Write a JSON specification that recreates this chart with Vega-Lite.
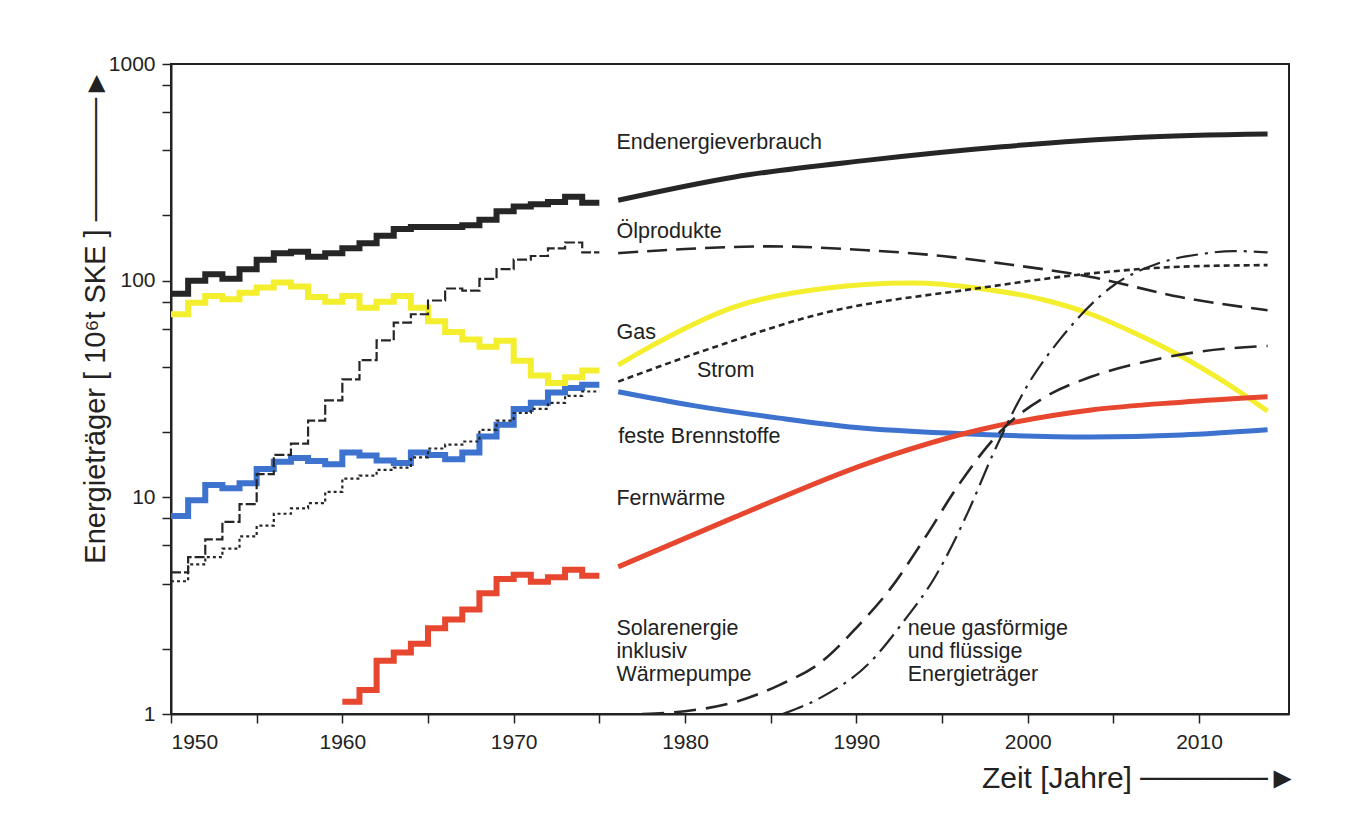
{
  "$schema": "https://vega.github.io/schema/vega-lite/v6.json",
  "width": 1118,
  "height": 650,
  "autosize": {"type": "none"},
  "padding": {"left": 171, "top": 64, "right": 80, "bottom": 109},
  "background": "white",
  "config": {
    "font": "Liberation Sans",
    "view": {"stroke": "#222222", "strokeWidth": 2},
    "axis": {
      "grid": false,
      "domainColor": "#222222",
      "domainWidth": 2,
      "tickColor": "#222222",
      "tickWidth": 1.5,
      "tickSize": 9,
      "labelFontSize": 21,
      "labelColor": "#222222",
      "labelFont": "Liberation Sans",
      "titleFont": "Liberation Sans, DejaVu Sans",
      "titleFontSize": 29,
      "titleFontWeight": "normal",
      "titleColor": "#222222"
    }
  },
  "datasets": {
    "hist": [
      {"series": "Endenergieverbrauch", "year": 1950, "value": 87},
      {"series": "Endenergieverbrauch", "year": 1951, "value": 100},
      {"series": "Endenergieverbrauch", "year": 1952, "value": 107},
      {"series": "Endenergieverbrauch", "year": 1953, "value": 102},
      {"series": "Endenergieverbrauch", "year": 1954, "value": 113},
      {"series": "Endenergieverbrauch", "year": 1955, "value": 125},
      {"series": "Endenergieverbrauch", "year": 1956, "value": 134},
      {"series": "Endenergieverbrauch", "year": 1957, "value": 136},
      {"series": "Endenergieverbrauch", "year": 1958, "value": 129},
      {"series": "Endenergieverbrauch", "year": 1959, "value": 134},
      {"series": "Endenergieverbrauch", "year": 1960, "value": 141},
      {"series": "Endenergieverbrauch", "year": 1961, "value": 149},
      {"series": "Endenergieverbrauch", "year": 1962, "value": 161},
      {"series": "Endenergieverbrauch", "year": 1963, "value": 173},
      {"series": "Endenergieverbrauch", "year": 1964, "value": 177},
      {"series": "Endenergieverbrauch", "year": 1965, "value": 177},
      {"series": "Endenergieverbrauch", "year": 1966, "value": 177},
      {"series": "Endenergieverbrauch", "year": 1967, "value": 180},
      {"series": "Endenergieverbrauch", "year": 1968, "value": 191},
      {"series": "Endenergieverbrauch", "year": 1969, "value": 209},
      {"series": "Endenergieverbrauch", "year": 1970, "value": 220},
      {"series": "Endenergieverbrauch", "year": 1971, "value": 225},
      {"series": "Endenergieverbrauch", "year": 1972, "value": 231},
      {"series": "Endenergieverbrauch", "year": 1973, "value": 244},
      {"series": "Endenergieverbrauch", "year": 1974, "value": 229},
      {"series": "Endenergieverbrauch", "year": 1975, "value": 229},
      {"series": "Ölprodukte", "year": 1950, "value": 4.5},
      {"series": "Ölprodukte", "year": 1951, "value": 5.3},
      {"series": "Ölprodukte", "year": 1952, "value": 6.4},
      {"series": "Ölprodukte", "year": 1953, "value": 7.7},
      {"series": "Ölprodukte", "year": 1954, "value": 9.3},
      {"series": "Ölprodukte", "year": 1955, "value": 12.8},
      {"series": "Ölprodukte", "year": 1956, "value": 15.7},
      {"series": "Ölprodukte", "year": 1957, "value": 17.7},
      {"series": "Ölprodukte", "year": 1958, "value": 22.6},
      {"series": "Ölprodukte", "year": 1959, "value": 28},
      {"series": "Ölprodukte", "year": 1960, "value": 35},
      {"series": "Ölprodukte", "year": 1961, "value": 43},
      {"series": "Ölprodukte", "year": 1962, "value": 53},
      {"series": "Ölprodukte", "year": 1963, "value": 64},
      {"series": "Ölprodukte", "year": 1964, "value": 70},
      {"series": "Ölprodukte", "year": 1965, "value": 81},
      {"series": "Ölprodukte", "year": 1966, "value": 92},
      {"series": "Ölprodukte", "year": 1967, "value": 90},
      {"series": "Ölprodukte", "year": 1968, "value": 102},
      {"series": "Ölprodukte", "year": 1969, "value": 113},
      {"series": "Ölprodukte", "year": 1970, "value": 125},
      {"series": "Ölprodukte", "year": 1971, "value": 130},
      {"series": "Ölprodukte", "year": 1972, "value": 141},
      {"series": "Ölprodukte", "year": 1973, "value": 150},
      {"series": "Ölprodukte", "year": 1974, "value": 135},
      {"series": "Ölprodukte", "year": 1975, "value": 135},
      {"series": "Strom", "year": 1950, "value": 4.1},
      {"series": "Strom", "year": 1951, "value": 4.9},
      {"series": "Strom", "year": 1952, "value": 5.3},
      {"series": "Strom", "year": 1953, "value": 5.8},
      {"series": "Strom", "year": 1954, "value": 6.6},
      {"series": "Strom", "year": 1955, "value": 7.4},
      {"series": "Strom", "year": 1956, "value": 8.4},
      {"series": "Strom", "year": 1957, "value": 8.9},
      {"series": "Strom", "year": 1958, "value": 9.4},
      {"series": "Strom", "year": 1959, "value": 10.6},
      {"series": "Strom", "year": 1960, "value": 12.2},
      {"series": "Strom", "year": 1961, "value": 12.6},
      {"series": "Strom", "year": 1962, "value": 13.4},
      {"series": "Strom", "year": 1963, "value": 13.7},
      {"series": "Strom", "year": 1964, "value": 15.3},
      {"series": "Strom", "year": 1965, "value": 16.8},
      {"series": "Strom", "year": 1966, "value": 17.5},
      {"series": "Strom", "year": 1967, "value": 18.1},
      {"series": "Strom", "year": 1968, "value": 20.5},
      {"series": "Strom", "year": 1969, "value": 22.6},
      {"series": "Strom", "year": 1970, "value": 24.5},
      {"series": "Strom", "year": 1971, "value": 25.6},
      {"series": "Strom", "year": 1972, "value": 27.3},
      {"series": "Strom", "year": 1973, "value": 29.4},
      {"series": "Strom", "year": 1974, "value": 30.8},
      {"series": "Strom", "year": 1975, "value": 30.8},
      {"series": "feste Brennstoffe", "year": 1950, "value": 8.2},
      {"series": "feste Brennstoffe", "year": 1951, "value": 9.7},
      {"series": "feste Brennstoffe", "year": 1952, "value": 11.4},
      {"series": "feste Brennstoffe", "year": 1953, "value": 11.0},
      {"series": "feste Brennstoffe", "year": 1954, "value": 11.6},
      {"series": "feste Brennstoffe", "year": 1955, "value": 13.5},
      {"series": "feste Brennstoffe", "year": 1956, "value": 14.6},
      {"series": "feste Brennstoffe", "year": 1957, "value": 15.2},
      {"series": "feste Brennstoffe", "year": 1958, "value": 14.7},
      {"series": "feste Brennstoffe", "year": 1959, "value": 14.2},
      {"series": "feste Brennstoffe", "year": 1960, "value": 16.1},
      {"series": "feste Brennstoffe", "year": 1961, "value": 15.6},
      {"series": "feste Brennstoffe", "year": 1962, "value": 14.8},
      {"series": "feste Brennstoffe", "year": 1963, "value": 14.4},
      {"series": "feste Brennstoffe", "year": 1964, "value": 16.1},
      {"series": "feste Brennstoffe", "year": 1965, "value": 15.7},
      {"series": "feste Brennstoffe", "year": 1966, "value": 15.0},
      {"series": "feste Brennstoffe", "year": 1967, "value": 16.1},
      {"series": "feste Brennstoffe", "year": 1968, "value": 19.1},
      {"series": "feste Brennstoffe", "year": 1969, "value": 21.6},
      {"series": "feste Brennstoffe", "year": 1970, "value": 25.6},
      {"series": "feste Brennstoffe", "year": 1971, "value": 27.3},
      {"series": "feste Brennstoffe", "year": 1972, "value": 30.5},
      {"series": "feste Brennstoffe", "year": 1973, "value": 32.0},
      {"series": "feste Brennstoffe", "year": 1974, "value": 33.1},
      {"series": "feste Brennstoffe", "year": 1975, "value": 33.1},
      {"series": "Gas", "year": 1950, "value": 70},
      {"series": "Gas", "year": 1951, "value": 79},
      {"series": "Gas", "year": 1952, "value": 85},
      {"series": "Gas", "year": 1953, "value": 82},
      {"series": "Gas", "year": 1954, "value": 88},
      {"series": "Gas", "year": 1955, "value": 93},
      {"series": "Gas", "year": 1956, "value": 98},
      {"series": "Gas", "year": 1957, "value": 94},
      {"series": "Gas", "year": 1958, "value": 84},
      {"series": "Gas", "year": 1959, "value": 80},
      {"series": "Gas", "year": 1960, "value": 85},
      {"series": "Gas", "year": 1961, "value": 75},
      {"series": "Gas", "year": 1962, "value": 80},
      {"series": "Gas", "year": 1963, "value": 85},
      {"series": "Gas", "year": 1964, "value": 75},
      {"series": "Gas", "year": 1965, "value": 65},
      {"series": "Gas", "year": 1966, "value": 58},
      {"series": "Gas", "year": 1967, "value": 53.5},
      {"series": "Gas", "year": 1968, "value": 49.6},
      {"series": "Gas", "year": 1969, "value": 52.8},
      {"series": "Gas", "year": 1970, "value": 42.7},
      {"series": "Gas", "year": 1971, "value": 36.5},
      {"series": "Gas", "year": 1972, "value": 33.7},
      {"series": "Gas", "year": 1973, "value": 35.8},
      {"series": "Gas", "year": 1974, "value": 38.5},
      {"series": "Gas", "year": 1975, "value": 38.5},
      {"series": "Fernwärme", "year": 1960, "value": 1.14},
      {"series": "Fernwärme", "year": 1961, "value": 1.29},
      {"series": "Fernwärme", "year": 1962, "value": 1.76},
      {"series": "Fernwärme", "year": 1963, "value": 1.92},
      {"series": "Fernwärme", "year": 1964, "value": 2.11},
      {"series": "Fernwärme", "year": 1965, "value": 2.49},
      {"series": "Fernwärme", "year": 1966, "value": 2.73},
      {"series": "Fernwärme", "year": 1967, "value": 3.04},
      {"series": "Fernwärme", "year": 1968, "value": 3.61},
      {"series": "Fernwärme", "year": 1969, "value": 4.2},
      {"series": "Fernwärme", "year": 1970, "value": 4.39},
      {"series": "Fernwärme", "year": 1971, "value": 4.08},
      {"series": "Fernwärme", "year": 1972, "value": 4.28},
      {"series": "Fernwärme", "year": 1973, "value": 4.63},
      {"series": "Fernwärme", "year": 1974, "value": 4.35},
      {"series": "Fernwärme", "year": 1975, "value": 4.35}
    ],
    "proj": [
      {"series": "Endenergieverbrauch", "year": 1976.1, "value": 235},
      {"series": "Endenergieverbrauch", "year": 1982.9, "value": 301},
      {"series": "Endenergieverbrauch", "year": 1990.7, "value": 360},
      {"series": "Endenergieverbrauch", "year": 1998.5, "value": 415},
      {"series": "Endenergieverbrauch", "year": 2006.3, "value": 458},
      {"series": "Endenergieverbrauch", "year": 2014, "value": 475},
      {"series": "Ölprodukte", "year": 1976.1, "value": 134},
      {"series": "Ölprodukte", "year": 1980, "value": 140},
      {"series": "Ölprodukte", "year": 1985, "value": 144},
      {"series": "Ölprodukte", "year": 1990.7, "value": 138},
      {"series": "Ölprodukte", "year": 1995, "value": 130},
      {"series": "Ölprodukte", "year": 1998.5, "value": 120},
      {"series": "Ölprodukte", "year": 2003.7, "value": 104},
      {"series": "Ölprodukte", "year": 2008.9, "value": 84},
      {"series": "Ölprodukte", "year": 2014, "value": 73},
      {"series": "Strom", "year": 1976.1, "value": 34.2},
      {"series": "Strom", "year": 1981.5, "value": 48.7},
      {"series": "Strom", "year": 1988, "value": 70.6},
      {"series": "Strom", "year": 1997, "value": 92},
      {"series": "Strom", "year": 2003.7, "value": 108},
      {"series": "Strom", "year": 2008.9, "value": 116},
      {"series": "Strom", "year": 2014, "value": 118},
      {"series": "Gas", "year": 1976.1, "value": 40.8},
      {"series": "Gas", "year": 1977.6, "value": 47.8},
      {"series": "Gas", "year": 1982.9, "value": 75.7},
      {"series": "Gas", "year": 1988.1, "value": 92},
      {"series": "Gas", "year": 1993.3, "value": 97.5},
      {"series": "Gas", "year": 1997.2, "value": 92},
      {"series": "Gas", "year": 2001.1, "value": 81},
      {"series": "Gas", "year": 2003.7, "value": 70},
      {"series": "Gas", "year": 2006.3, "value": 57},
      {"series": "Gas", "year": 2008.9, "value": 45},
      {"series": "Gas", "year": 2011.5, "value": 34},
      {"series": "Gas", "year": 2014, "value": 25},
      {"series": "feste Brennstoffe", "year": 1976.1, "value": 30.7},
      {"series": "feste Brennstoffe", "year": 1980.5, "value": 26.5},
      {"series": "feste Brennstoffe", "year": 1985.5, "value": 23.2},
      {"series": "feste Brennstoffe", "year": 1990, "value": 21},
      {"series": "feste Brennstoffe", "year": 1995.9, "value": 19.7},
      {"series": "feste Brennstoffe", "year": 2003.7, "value": 19.0},
      {"series": "feste Brennstoffe", "year": 2009, "value": 19.4},
      {"series": "feste Brennstoffe", "year": 2014, "value": 20.5},
      {"series": "Fernwärme", "year": 1976.1, "value": 4.78},
      {"series": "Fernwärme", "year": 1982.9, "value": 8.1},
      {"series": "Fernwärme", "year": 1990.7, "value": 14.4},
      {"series": "Fernwärme", "year": 1997.2, "value": 20.5},
      {"series": "Fernwärme", "year": 2003.7, "value": 25.3},
      {"series": "Fernwärme", "year": 2009, "value": 27.5},
      {"series": "Fernwärme", "year": 2014, "value": 29.1},
      {"series": "Solarenergie", "year": 1977.5, "value": 1.0},
      {"series": "Solarenergie", "year": 1980, "value": 1.03},
      {"series": "Solarenergie", "year": 1983, "value": 1.14},
      {"series": "Solarenergie", "year": 1985.5, "value": 1.36},
      {"series": "Solarenergie", "year": 1988, "value": 1.75},
      {"series": "Solarenergie", "year": 1990, "value": 2.5},
      {"series": "Solarenergie", "year": 1992, "value": 3.8},
      {"series": "Solarenergie", "year": 1994, "value": 6.5},
      {"series": "Solarenergie", "year": 1996, "value": 11.5},
      {"series": "Solarenergie", "year": 1998.5, "value": 20.5},
      {"series": "Solarenergie", "year": 2001, "value": 29},
      {"series": "Solarenergie", "year": 2003.7, "value": 36},
      {"series": "Solarenergie", "year": 2007.6, "value": 43.5},
      {"series": "Solarenergie", "year": 2010, "value": 47},
      {"series": "Solarenergie", "year": 2014, "value": 50},
      {"series": "neue Energieträger", "year": 1985.7, "value": 1.0},
      {"series": "neue Energieträger", "year": 1988, "value": 1.2},
      {"series": "neue Energieträger", "year": 1990.7, "value": 1.7},
      {"series": "neue Energieträger", "year": 1992.8, "value": 2.7},
      {"series": "neue Energieträger", "year": 1994.6, "value": 4.3},
      {"series": "neue Energieträger", "year": 1996.5, "value": 8.5},
      {"series": "neue Energieträger", "year": 1998, "value": 16},
      {"series": "neue Energieträger", "year": 2000, "value": 33},
      {"series": "neue Energieträger", "year": 2002, "value": 55},
      {"series": "neue Energieträger", "year": 2005, "value": 95},
      {"series": "neue Energieträger", "year": 2007.6, "value": 120},
      {"series": "neue Energieträger", "year": 2010.2, "value": 133},
      {"series": "neue Energieträger", "year": 2012, "value": 137},
      {"series": "neue Energieträger", "year": 2014, "value": 135}
    ],
    "labels": [
      {"label": "Endenergieverbrauch", "year": 1976.0, "value": 431},
      {"label": "Ölprodukte", "year": 1976.0, "value": 168},
      {"label": "Gas", "year": 1976.0, "value": 57.3},
      {"label": "Strom", "year": 1980.7, "value": 38.3},
      {"label": "feste Brennstoffe", "year": 1976.1, "value": 19.0},
      {"label": "Fernwärme", "year": 1976.0, "value": 9.8},
      {"label": "Solarenergie\ninklusiv\nWärmepumpe", "year": 1976.0, "value": 2.46},
      {"label": "neue gasförmige\nund flüssige\nEnergieträger", "year": 1993.0, "value": 2.46}
    ]
  },
  "encoding": {
    "x": {
      "field": "year", "type": "quantitative",
      "scale": {"domain": [1950, 2015.25], "nice": false, "zero": false},
      "axis": {
        "values": [1950, 1955, 1960, 1965, 1970, 1975, 1980, 1985, 1990, 1995, 2000, 2005, 2010],
        "labelExpr": "datum.value % 10 == 0 ? format(datum.value, 'd') : ''",
        "labelPadding": 8,
        "title": "Zeit  [Jahre] ──────►",
        "titleFontSize": 30,
        "titleAlign": "right",
        "titleBaseline": "middle",
        "titleX": 1126,
        "titleY": 64
      }
    },
    "y": {
      "field": "value", "type": "quantitative",
      "scale": {"type": "log", "domain": [1, 1000], "nice": false},
      "axis": {
        "values": [1, 2, 4, 6, 8, 10, 20, 40, 60, 80, 100, 200, 400, 600, 800, 1000],
        "labelExpr": "datum.value == 1 || datum.value == 10 || datum.value == 100 || datum.value == 1000 ? format(datum.value, 'd') : ''",
        "labelPadding": 7,
        "title": "Energieträger  [ 10⁶t SKE ]  ──────►",
        "titleAlign": "center",
        "titleBaseline": "middle",
        "titleAngle": -90,
        "titleX": -76,
        "titleY": 252
      }
    },
    "color": {"field": "series", "type": "nominal", "legend": null,
      "scale": {"domain": ["Endenergieverbrauch", "Ölprodukte", "Gas", "Strom", "feste Brennstoffe", "Fernwärme", "Solarenergie", "neue Energieträger"],
                "range": ["#262626", "#262626", "#f3ee2e", "#262626", "#3d72cf", "#e6472e", "#262626", "#262626"]}}
  },
  "layer": [
    {
      "data": {"name": "hist"},
      "transform": [{"filter": {"field": "series", "oneOf": ["Endenergieverbrauch", "Gas", "feste Brennstoffe", "Fernwärme"]}}],
      "mark": {"type": "line", "interpolate": "step-after", "clip": true, "strokeWidth": 6, "strokeCap": "butt", "strokeJoin": "miter"},
      "encoding": {"detail": {"field": "series"}}
    },
    {
      "data": {"name": "hist"},
      "transform": [{"filter": {"field": "series", "equal": "Ölprodukte"}}],
      "mark": {"type": "line", "interpolate": "step-after", "clip": true, "strokeWidth": 2.2, "strokeDash": [10, 3], "strokeCap": "butt"},
      "encoding": {"detail": {"field": "series"}}
    },
    {
      "data": {"name": "hist"},
      "transform": [{"filter": {"field": "series", "equal": "Strom"}}],
      "mark": {"type": "line", "interpolate": "step-after", "clip": true, "strokeWidth": 2.2, "strokeDash": [3, 3], "strokeCap": "butt"},
      "encoding": {"detail": {"field": "series"}}
    },
    {
      "data": {"name": "proj"},
      "transform": [{"filter": {"field": "series", "oneOf": ["Endenergieverbrauch", "Gas", "feste Brennstoffe", "Fernwärme"]}}],
      "mark": {"type": "line", "interpolate": "monotone", "clip": true, "strokeWidth": 5, "strokeCap": "butt"},
      "encoding": {"detail": {"field": "series"}}
    },
    {
      "data": {"name": "proj"},
      "transform": [{"filter": {"field": "series", "equal": "Ölprodukte"}}],
      "mark": {"type": "line", "interpolate": "monotone", "clip": true, "strokeWidth": 2.6, "strokeDash": [20, 9], "strokeCap": "butt"},
      "encoding": {"detail": {"field": "series"}}
    },
    {
      "data": {"name": "proj"},
      "transform": [{"filter": {"field": "series", "equal": "Strom"}}],
      "mark": {"type": "line", "interpolate": "monotone", "clip": true, "strokeWidth": 2.6, "strokeDash": [6, 4], "strokeCap": "butt"},
      "encoding": {"detail": {"field": "series"}}
    },
    {
      "data": {"name": "proj"},
      "transform": [{"filter": {"field": "series", "equal": "Solarenergie"}}],
      "mark": {"type": "line", "interpolate": "monotone", "clip": true, "strokeWidth": 2.6, "strokeDash": [22, 10], "strokeCap": "butt"},
      "encoding": {"detail": {"field": "series"}}
    },
    {
      "data": {"name": "proj"},
      "transform": [{"filter": {"field": "series", "equal": "neue Energieträger"}}],
      "mark": {"type": "line", "interpolate": "monotone", "clip": true, "strokeWidth": 2.2, "strokeDash": [22, 7, 3, 7], "strokeCap": "butt"},
      "encoding": {"detail": {"field": "series"}}
    },
    {
      "data": {"name": "labels"},
      "mark": {"type": "text", "align": "left", "baseline": "middle", "fontSize": 21.5, "lineBreak": "\n", "lineHeight": 23, "font": "Liberation Sans", "color": "#222222"},
      "encoding": {
        "text": {"field": "label"},
        "color": {"value": "#222222"}
      }
    }
  ]
}
